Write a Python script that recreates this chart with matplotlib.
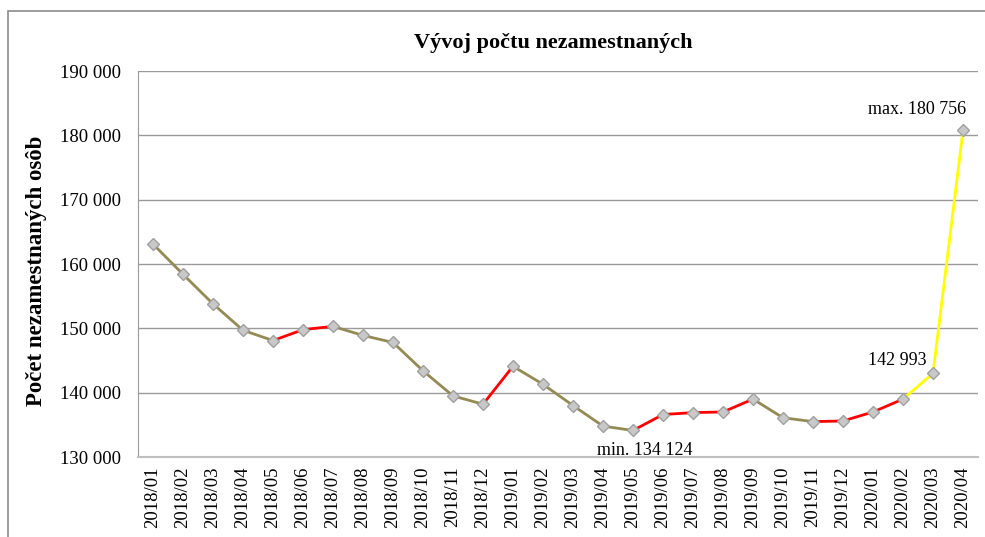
import matplotlib
matplotlib.use("Agg")
import matplotlib.pyplot as plt
from matplotlib.patches import Rectangle
from matplotlib.ticker import FuncFormatter

months = ["2018/01", "2018/02", "2018/03", "2018/04", "2018/05", "2018/06", "2018/07",
          "2018/08", "2018/09", "2018/10", "2018/11", "2018/12", "2019/01", "2019/02",
          "2019/03", "2019/04", "2019/05", "2019/06", "2019/07", "2019/08", "2019/09",
          "2019/10", "2019/11", "2019/12", "2020/01", "2020/02", "2020/03", "2020/04"]
values = [163100, 158400, 153800, 149700, 148100, 149800, 150300,
          148900, 147800, 143400, 139500, 138200, 144100, 141300,
          138000, 134800, 134124, 136600, 136900, 137000, 139000,
          136100, 135500, 135600, 137000, 139000, 142993, 180756]
yellow_from = 25  # segments starting at this index are highlighted

annotations = [(16, "min. 134 124"), (26, "142 993"), (27, "max. 180 756")]

plt.rcParams['font.family'] = ['Liberation Serif', 'DejaVu Serif']

fig = plt.figure(figsize=(9.85, 5.37), dpi=100)
ax = fig.add_axes([138/985, 1-457/537, 840/985, (457-71)/537])

x = list(range(len(months)))
OLIVE = "#948A54"
for i in range(len(values)-1):
    if i >= yellow_from:
        c = "#FFFF00"
    elif values[i+1] > values[i]:
        c = "#FF0000"
    else:
        c = OLIVE
    ax.plot([x[i], x[i+1]], [values[i], values[i+1]], color=c, lw=2, zorder=3,
            solid_capstyle='butt')
ax.plot(x, values, ls='none', marker='D', ms=6, mfc="#C8C8C8", mec="#A0A0A0",
        mew=1, zorder=4)

ax.set_xlim(-0.5, len(months)-0.5)
ax.set_ylim(130000, 190000)
ax.set_yticks(range(130000, 190001, 10000))
ax.yaxis.set_major_formatter(FuncFormatter(lambda v, p: f"{int(v):,}".replace(",", " ")))
ax.set_xticks(x)
ax.set_xticklabels(months, rotation=90)
ax.tick_params(axis='y', length=0, pad=12, labelsize=13.5)
ax.tick_params(axis='x', length=0, pad=7, labelsize=13.5)
ax.grid(axis='y', color="#9A9A9A", lw=1)
ax.set_axisbelow(True)
for s in ['top', 'right']:
    ax.spines[s].set_visible(False)
ax.spines['left'].set_color("#9A9A9A")
ax.spines['bottom'].set_color("#C0C0C0")
ax.spines['bottom'].set_linewidth(1.5)

fig.text(37/985, 1-271/537, "Počet nezamestnaných osôb", rotation=90, ha='center',
         va='center', fontsize=16.5, fontweight='bold')
fig.text(553/985, 1-43/537, "Vývoj počtu nezamestnaných", ha='center', va='center',
         fontsize=16, fontweight='bold')

offsets = {16: (12, -20), 26: (-36, 13), 27: (-46, 21)}
for idx, txt in annotations:
    dx, dy = offsets[idx]
    ax.annotate(txt, (x[idx], values[idx]), xytext=(dx, dy), textcoords='offset pixels',
                ha='center', va='center', fontsize=13)

fig.patches.append(Rectangle((8/985, -0.1), 1.2, 1-11/537+0.1, transform=fig.transFigure,
                             fill=False, edgecolor="#8C8C8C", lw=1.2))

fig.savefig("out.png", dpi=100)
